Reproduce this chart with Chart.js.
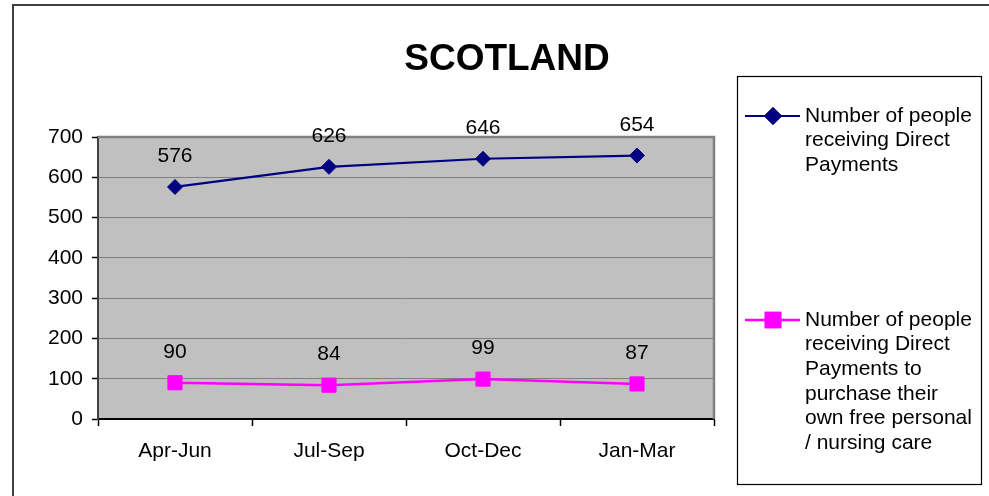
<!DOCTYPE html>
<html><head><meta charset="utf-8">
<script src="https://cdn.jsdelivr.net/npm/chart.js@4.4.1/dist/chart.umd.min.js"></script>
<style>html,body{margin:0;padding:0;background:#fff;overflow:hidden}</style>
</head><body>
<canvas id="c" width="989" height="496" style="display:block;width:989px;height:496px"></canvas>
<script>
const chartTitle = 'SCOTLAND';
const categories = ['Apr-Jun', 'Jul-Sep', 'Oct-Dec', 'Jan-Mar'];
const seriesNames = [
  'Number of people receiving Direct Payments',
  'Number of people receiving Direct Payments to purchase their own free personal / nursing care'
];
const directPayments = [576, 626, 646, 654];
const freePersonalCare = [90, 84, 99, 87];
const yMin = 0, yMax = 700, yStep = 100;

const FONT = "'Liberation Sans', Arial, sans-serif";

const decor = {
  id: 'decor',
  beforeDraw(chart) {
    const ctx = chart.ctx, a = chart.chartArea;
    ctx.save();
    ctx.fillStyle = '#fff';
    ctx.fillRect(0, 0, chart.width, chart.height);
    // outer chart border
    ctx.strokeStyle = '#404040';
    ctx.lineWidth = 2;
    ctx.beginPath();
    ctx.moveTo(13, chart.height + 2);
    ctx.lineTo(13, 5);
    ctx.lineTo(chart.width + 2, 5);
    ctx.stroke();
    // plot background
    ctx.fillStyle = '#C0C0C0';
    ctx.fillRect(a.left, a.top, a.right - a.left, a.bottom - a.top);
    ctx.restore();
  },
  afterDatasetsDraw(chart) {
    const ctx = chart.ctx, a = chart.chartArea;
    ctx.save();
    // plot top/right border
    ctx.strokeStyle = '#808080';
    ctx.lineWidth = 2.5;
    ctx.beginPath();
    ctx.moveTo(a.left, a.top);
    ctx.lineTo(a.right, a.top);
    ctx.lineTo(a.right, a.bottom);
    ctx.stroke();
    // data labels
    ctx.fillStyle = '#000';
    ctx.font = '21px ' + FONT;
    ctx.textAlign = 'center';
    ctx.textBaseline = 'alphabetic';
    chart.data.datasets.forEach((ds, i) => {
      const meta = chart.getDatasetMeta(i);
      meta.data.forEach((pt, j) => {
        ctx.fillText(String(ds.data[j]), pt.x, pt.y - 25);
      });
    });
    // title
    ctx.font = 'bold 37px ' + FONT;
    ctx.fillText(chartTitle, 507, 70);
    // legend box
    const bx = 737, by = 76, bw = 244, bh = 408;
    ctx.strokeStyle = '#000';
    ctx.lineWidth = 1.2;
    ctx.strokeRect(bx + 0.5, by + 0.5, bw, bh);
    ctx.font = '21px ' + FONT;
    ctx.textAlign = 'left';
    ctx.textBaseline = 'middle';
    const maxW = 176, lh = 24.6;
    const entryTop = [116, 320];
    chart.data.datasets.forEach((ds, i) => {
      const words = ds.label.split(' ');
      const lines = [];
      let cur = '';
      words.forEach(w => {
        const t = cur ? cur + ' ' + w : w;
        if (ctx.measureText(t).width > maxW && cur) { lines.push(cur); cur = w; }
        else cur = t;
      });
      if (cur) lines.push(cur);
      const y0 = entryTop[i];
      ctx.strokeStyle = ds.borderColor;
      ctx.lineWidth = ds.borderWidth;
      ctx.beginPath();
      ctx.moveTo(745, y0);
      ctx.lineTo(800, y0);
      ctx.stroke();
      Chart.helpers.drawPoint(ctx, {
        pointStyle: ds.pointStyle, radius: ds.pointRadius, borderWidth: 1, rotation: 0
      }, 773, y0);
      ctx.fillStyle = ds.backgroundColor;
      ctx.strokeStyle = ds.borderColor;
      ctx.fill();
      ctx.stroke();
      ctx.fillStyle = '#000';
      lines.forEach((ln, k) => ctx.fillText(ln, 805, y0 + k * lh));
    });
    ctx.restore();
  }
};

new Chart(document.getElementById('c'), {
  type: 'line',
  data: {
    labels: categories,
    datasets: [
      {
        label: seriesNames[0],
        data: directPayments,
        borderColor: '#000080',
        backgroundColor: '#000080',
        borderWidth: 2.2,
        pointStyle: 'rectRot',
        pointRadius: 7.5,
        pointBorderWidth: 1,
        tension: 0
      },
      {
        label: seriesNames[1],
        data: freePersonalCare,
        borderColor: '#FF00FF',
        backgroundColor: '#FF00FF',
        borderWidth: 2.5,
        pointStyle: 'rect',
        pointRadius: 10,
        pointBorderWidth: 1,
        tension: 0
      }
    ]
  },
  options: {
    responsive: false,
    animation: false,
    devicePixelRatio: 1,
    layout: { padding: { left: 0, top: 137, right: 275, bottom: 0 } },
    plugins: {
      legend: { display: false },
      title: { display: false },
      tooltip: { enabled: false }
    },
    scales: {
      x: {
        offset: true,
        grid: { offset: true, drawOnChartArea: false, drawTicks: true, tickLength: 7, tickColor: '#000', tickWidth: 1.5 },
        border: { display: true, color: '#000', width: 2 },
        ticks: { color: '#000', font: { family: FONT, size: 21 }, padding: 13, maxRotation: 0 },
        afterFit(scale) { scale.height = 77; }
      },
      y: {
        min: yMin, max: yMax,
        grid: { color: '#808080', lineWidth: 1, tickLength: 6, tickColor: '#000', tickWidth: 1.5 },
        border: { display: true, color: '#404040', width: 2 },
        ticks: { stepSize: yStep, color: '#000', font: { family: FONT, size: 21 }, padding: 9 },
        afterFit(scale) { scale.width = 98; }
      }
    }
  },
  plugins: [decor]
});
</script>
</body></html>
